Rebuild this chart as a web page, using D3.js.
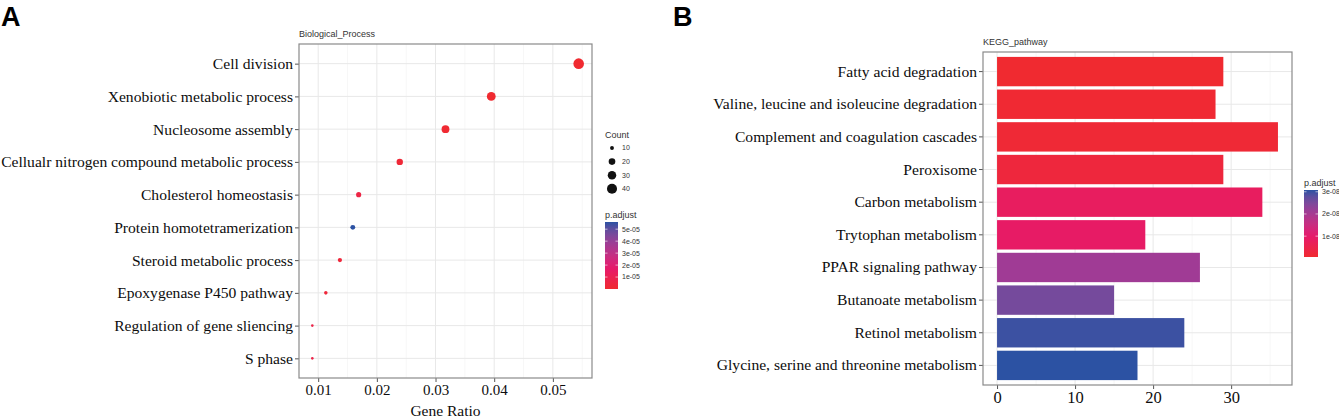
<!DOCTYPE html>
<html>
<head>
<meta charset="utf-8">
<script src="https://cdn.jsdelivr.net/npm/d3@7"></script>
<style>
  body { margin: 0; background: #fff; }
  .serif { font-family: "Liberation Serif", "Times New Roman", serif; fill: #0d0d0d; }
  .sans { font-family: "Liberation Sans", Arial, sans-serif; fill: #333; }
</style>
</head>
<body>
<svg id="chart"></svg>
<script>
const width = 1339;
const height = 417;

// Panel A: GO biological process dot plot
const bpTerms = [
	"Cell division",
	"Xenobiotic metabolic process",
	"Nucleosome assembly",
	"Cellualr nitrogen compound metabolic process",
	"Cholesterol homeostasis",
	"Protein homotetramerization",
	"Steroid metabolic process",
	"Epoxygenase P450 pathway",
	"Regulation of gene sliencing",
	"S phase",
];
const bpGeneRatio = [0.0544, 0.0395, 0.0317, 0.0239, 0.0169, 0.0159, 0.0137, 0.0113, 0.0090, 0.0090];
const bpCount = [44, 32, 26, 19, 14, 13, 11, 9, 7, 7];
const bpPadj = [1e-8, 1e-7, 5e-7, 2e-6, 6e-6, 5.6e-5, 3e-6, 3e-6, 7e-6, 7e-6];
const bpRatioTicks = [0.01, 0.02, 0.03, 0.04, 0.05];
const bpCountBreaks = [10, 20, 30, 40];
const bpPadjTicks = [1e-5, 2e-5, 3e-5, 4e-5, 5e-5];

// Panel B: KEGG pathway bar plot
const keggTerms = [
	"Fatty acid degradation",
	"Valine, leucine and isoleucine degradation",
	"Complement and coagulation cascades",
	"Peroxisome",
	"Carbon metabolism",
	"Trytophan metabolism",
	"PPAR signaling pathway",
	"Butanoate metabolism",
	"Retinol metabolism",
	"Glycine, serine and threonine metabolism",
];
const keggCount = [29, 28, 36, 29, 34, 19, 26, 15, 24, 18];
const keggPadj = [6e-10, 1e-9, 1.5e-9, 2.5e-9, 8e-9, 9e-9, 2.1e-8, 2.55e-8, 3.0e-8, 3.08e-8];
const keggCountTicks = [0, 10, 20, 30];
const keggPadjTicks = [1e-8, 2e-8, 3e-8];

const gradientColors = ["#f02a30", "#e5186f", "#a23a95", "#2c52a3"];
const colorInterp = d3.piecewise(d3.interpolateLab, gradientColors);

const svg = d3.select("#chart").attr("width", width).attr("height", height);

function expand(extent, frac) {
	const span = extent[1] - extent[0];
	return [extent[0] - span * frac, extent[1] + span * frac];
}

function fmtSci(v) {
	return d3.format(".0e")(v).replace("e-", "e-0");
}

// grid lines behind the marks
function drawFrame(g, box, x, y, xTicks, minorTicks) {
	const grid = g.append("g");
	minorTicks.forEach((t) => {
		grid.append("line")
			.attr("x1", x(t)).attr("x2", x(t))
			.attr("y1", box.top).attr("y2", box.bottom)
			.attr("stroke", "#f2f2f2").attr("stroke-width", 0.6);
	});
	xTicks.forEach((t) => {
		grid.append("line")
			.attr("x1", x(t)).attr("x2", x(t))
			.attr("y1", box.top).attr("y2", box.bottom)
			.attr("stroke", "#e8e8e8").attr("stroke-width", 1);
	});
	y.domain().forEach((d) => {
		const cy = y(d) + (y.bandwidth ? y.bandwidth() / 2 : 0);
		grid.append("line")
			.attr("x1", box.left).attr("x2", box.right)
			.attr("y1", cy).attr("y2", cy)
			.attr("stroke", "#e8e8e8").attr("stroke-width", 1);
	});
}

function drawAxes(g, box, x, y, xTicks, xFmt, xFontSize, yFontSize) {
	const xAxis = g.append("g")
		.attr("transform", `translate(0,${box.bottom})`)
		.call(d3.axisBottom(x).tickValues(xTicks).tickFormat(xFmt).tickSize(4).tickPadding(2.3));
	xAxis.select(".domain").remove();
	xAxis.selectAll("line").attr("stroke", "#555");
	xAxis.selectAll("text").attr("class", "serif").attr("font-size", xFontSize);

	const yAxis = g.append("g")
		.attr("transform", `translate(${box.left},0)`)
		.call(d3.axisLeft(y).tickSize(4).tickPadding(2));
	yAxis.select(".domain").remove();
	yAxis.selectAll("line").attr("stroke", "#555");
	yAxis.selectAll("text").attr("class", "serif").attr("font-size", yFontSize);

	g.append("rect")
		.attr("x", box.left).attr("y", box.top)
		.attr("width", box.right - box.left).attr("height", box.bottom - box.top)
		.attr("fill", "none").attr("stroke", "#8a8a8a").attr("stroke-width", 1.2);
}

function drawGradientLegend(id, x0, y0, w, h, domain, ticks, title) {
	const defs = svg.append("defs");
	const grad = defs.append("linearGradient").attr("id", id)
		.attr("x1", 0).attr("x2", 0).attr("y1", 1).attr("y2", 0);
	d3.range(0, 1.001, 0.1).forEach((t) => {
		grad.append("stop").attr("offset", t).attr("stop-color", colorInterp(t));
	});
	svg.append("text").attr("class", "sans")
		.attr("x", x0).attr("y", y0 - 4).attr("font-size", 9).text(title);
	svg.append("rect").attr("x", x0).attr("y", y0).attr("width", w).attr("height", h)
		.attr("fill", `url(#${id})`);
	const ly = d3.scaleLinear().domain(domain).range([y0 + h, y0]);
	ticks.forEach((t) => {
		svg.append("line").attr("x1", x0).attr("x2", x0 + 2.5)
			.attr("y1", ly(t)).attr("y2", ly(t)).attr("stroke", "#fff").attr("stroke-width", 0.6);
		svg.append("line").attr("x1", x0 + w - 2.5).attr("x2", x0 + w)
			.attr("y1", ly(t)).attr("y2", ly(t)).attr("stroke", "#fff").attr("stroke-width", 0.6);
		svg.append("text").attr("class", "sans")
			.attr("x", x0 + w + 4).attr("y", ly(t)).attr("dy", "0.35em")
			.attr("font-size", 7).text(fmtSci(t));
	});
}

// ---------- Panel A ----------
const boxA = { left: 299, right: 592, top: 44, bottom: 378 };
const gA = svg.append("g");

const xA = d3.scaleLinear()
	.domain(expand(d3.extent(bpGeneRatio), 0.05))
	.range([boxA.left, boxA.right]);
const yA = d3.scalePoint().domain(bpTerms).range([boxA.top, boxA.bottom]).padding(0.6);
const sizeA = d3.scaleLinear().domain(d3.extent(bpCount)).range([1.3 * 1.3, 5.3 * 5.3]);
const radiusA = (c) => Math.sqrt(sizeA(c));
const colorA = d3.scaleLinear().domain(d3.extent(bpPadj)).range([0, 1]);

drawFrame(gA, boxA, xA, yA, bpRatioTicks, [0.015, 0.025, 0.035, 0.045, 0.055]);

gA.selectAll("circle.dot")
	.data(bpTerms)
	.join("circle")
	.attr("class", "dot")
	.attr("cx", (d, i) => xA(bpGeneRatio[i]))
	.attr("cy", (d) => yA(d))
	.attr("r", (d, i) => radiusA(bpCount[i]))
	.attr("fill", (d, i) => colorInterp(colorA(bpPadj[i])));

drawAxes(gA, boxA, xA, yA, bpRatioTicks, d3.format(".2f"), 15, 15.6);

gA.append("text").attr("class", "serif")
	.attr("x", (boxA.left + boxA.right) / 2).attr("y", 415.5)
	.attr("text-anchor", "middle").attr("font-size", 15.5).text("Gene Ratio");

gA.append("text").attr("class", "sans")
	.attr("x", boxA.left).attr("y", 37).attr("font-size", 9).text("Biological_Process");

svg.append("text").attr("x", 1).attr("y", 26)
	.attr("font-family", "Liberation Sans, Arial, sans-serif")
	.attr("font-weight", "bold").attr("font-size", 27).text("A");

// Count legend
svg.append("text").attr("class", "sans")
	.attr("x", 605).attr("y", 138).attr("font-size", 9).text("Count");
bpCountBreaks.forEach((c, i) => {
	const cy = 148 + i * 13.6;
	svg.append("circle").attr("cx", 612).attr("cy", cy).attr("r", radiusA(c)).attr("fill", "#111");
	svg.append("text").attr("class", "sans")
		.attr("x", 622).attr("y", cy).attr("dy", "0.35em").attr("font-size", 7).text(c);
});

drawGradientLegend("gradA", 605, 222, 13, 67, d3.extent(bpPadj), bpPadjTicks, "p.adjust");

// ---------- Panel B ----------
const boxB = { left: 983, right: 1292, top: 52, bottom: 385 };
const gB = svg.append("g");

const xB = d3.scaleLinear()
	.domain(expand([0, d3.max(keggCount)], 0.05))
	.range([boxB.left, boxB.right]);
const yB = d3.scaleBand().domain(keggTerms).range([boxB.top, boxB.bottom])
	.paddingInner(0.1).paddingOuter(0.15);
const colorB = d3.scaleLinear().domain(d3.extent(keggPadj)).range([0, 1]);

drawFrame(gB, boxB, xB, yB, keggCountTicks, [5, 15, 25, 35]);

gB.selectAll("rect.bar")
	.data(keggTerms)
	.join("rect")
	.attr("class", "bar")
	.attr("x", xB(0))
	.attr("y", (d) => yB(d))
	.attr("width", (d, i) => xB(keggCount[i]) - xB(0))
	.attr("height", yB.bandwidth())
	.attr("fill", (d, i) => colorInterp(colorB(keggPadj[i])));

drawAxes(gB, boxB, xB, yB, keggCountTicks, d3.format("d"), 16.5, 15.6);

gB.append("text").attr("class", "sans")
	.attr("x", boxB.left).attr("y", 45).attr("font-size", 9).text("KEGG_pathway");

svg.append("text").attr("x", 673).attr("y", 26)
	.attr("font-family", "Liberation Sans, Arial, sans-serif")
	.attr("font-weight", "bold").attr("font-size", 27).text("B");

drawGradientLegend("gradB", 1304, 190, 14, 67, d3.extent(keggPadj), keggPadjTicks, "p.adjust");
</script>
</body>
</html>
